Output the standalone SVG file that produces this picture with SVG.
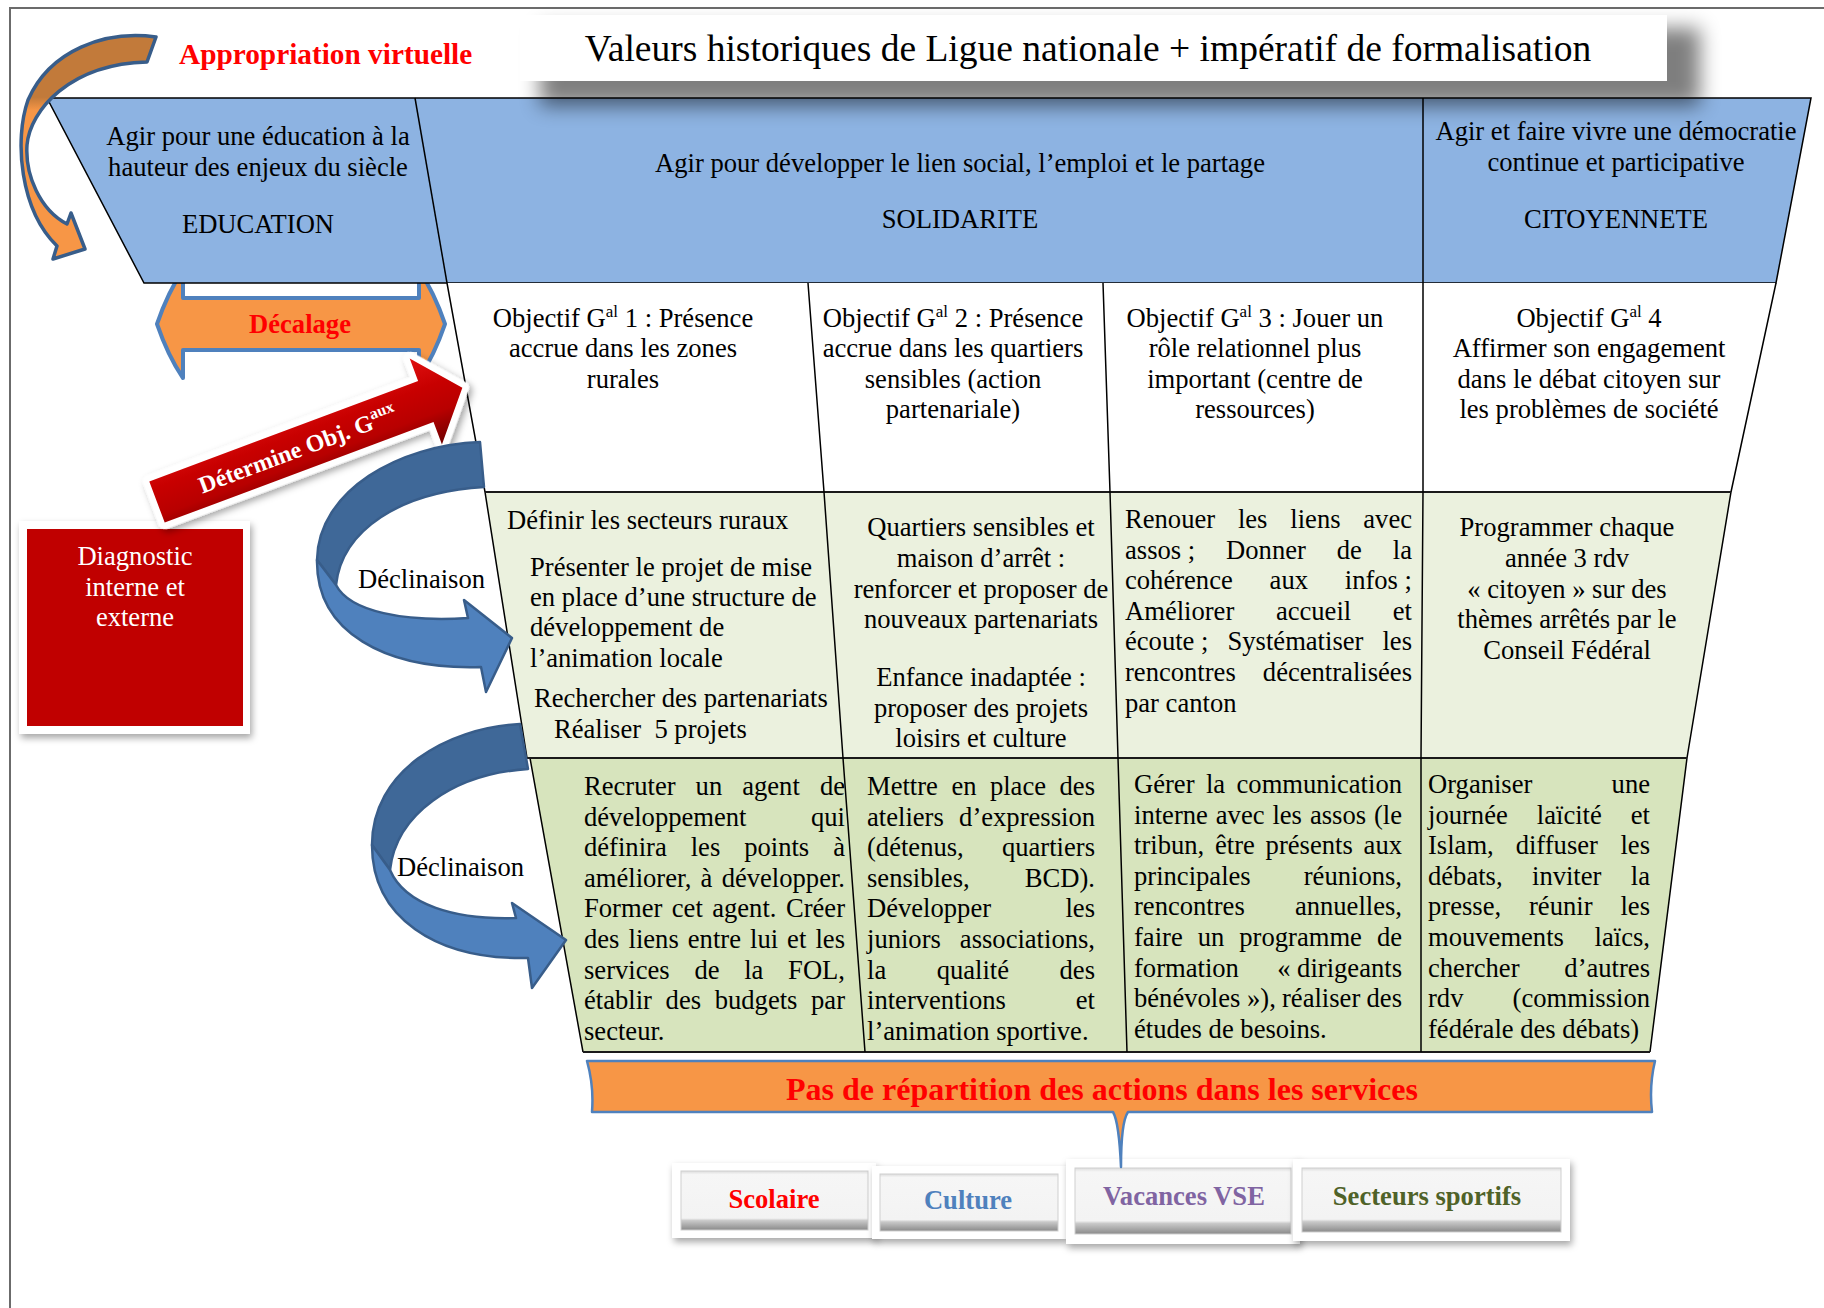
<svg xmlns="http://www.w3.org/2000/svg" width="1824" height="1308" viewBox="0 0 1824 1308">
<defs>
<style>
text{font-family:"Liberation Serif","Times New Roman",serif;font-size:26.6px;fill:#000}
.m{text-anchor:middle}
.e{text-anchor:end}
.b{font-weight:bold}
.ln{stroke:#000;stroke-width:1.5;fill:none}
.hl{stroke:#1a1a1a;stroke-width:2.2;fill:none}
.frame{fill:#fff;filter:url(#ds)}
.face{fill:url(#bev);stroke:#cfcfcf;stroke-width:1}
.blueA{stroke:#385d8a;stroke-width:2.5;stroke-linejoin:round}
</style>
<filter id="ds" x="-15%" y="-15%" width="135%" height="150%"><feDropShadow dx="2" dy="4" stdDeviation="3.5" flood-color="#000" flood-opacity="0.35"/></filter>
<filter id="blur" x="-10%" y="-50%" width="120%" height="200%"><feGaussianBlur stdDeviation="10"/></filter>
<linearGradient id="bev" x1="0" y1="0" x2="0" y2="1">
<stop offset="0" stop-color="#dcdcdc"/><stop offset="0.06" stop-color="#f6f6f6"/><stop offset="0.80" stop-color="#f3f3f3"/><stop offset="0.84" stop-color="#c9c9c9"/><stop offset="1" stop-color="#8a8a8a"/>
</linearGradient>
<linearGradient id="redg" x1="0" y1="0" x2="0" y2="1">
<stop offset="0" stop-color="#e01010"/><stop offset="0.35" stop-color="#c80000"/><stop offset="0.65" stop-color="#b80000"/><stop offset="1" stop-color="#6e0000"/>
</linearGradient>
<linearGradient id="orag" gradientUnits="userSpaceOnUse" x1="0" y1="37" x2="0" y2="260">
<stop offset="0" stop-color="#c27a3a"/><stop offset="0.27" stop-color="#c27a3a"/><stop offset="0.33" stop-color="#f79646"/><stop offset="1" stop-color="#f79646"/>
</linearGradient>
</defs>
<rect width="1824" height="1308" fill="#fff"/>
<path d="M10,1308 V8 H1824" stroke="#6b6b6b" stroke-width="2" fill="none"/>

<g id="decalage">
<path d="M157,324 Q168,292 183,270 L183,298 L419,298 L419,270 Q434,292 445,324 Q434,356 419,378 L419,350 L183,350 L183,378 Q168,356 157,324 Z" fill="#f79646" stroke="#4f81bd" stroke-width="4" stroke-linejoin="round"/>
<text class="b m" x="300" y="333" style="fill:#ff0000">Décalage</text>
</g>

<g id="header">
<polygon points="47,98 1811,98 1776,283 144,283" fill="#8db3e2" stroke="#000" stroke-width="1.5"/>
<line class="ln" x1="415" y1="98" x2="447" y2="283"/>
<line class="ln" x1="1423" y1="98" x2="1423" y2="283"/>
</g>

<g id="title">
<rect x="540" y="28" width="1160" height="78" fill="#000" opacity="0.5" filter="url(#blur)"/>
<rect x="520" y="15" width="1147" height="66" fill="#fff"/>
<text class="m" x="1088" y="61" style="font-size:37.5px">Valeurs historiques de Ligue nationale + impératif de formalisation</text>
</g>
<text id="appropriation" class="b" x="179" y="64" style="font-size:29.3px;fill:#ff0000">Appropriation virtuelle</text>

<g id="education">
<text class="m" x="258" y="145">Agir pour une éducation à la</text>
<text class="m" x="258" y="176">hauteur des enjeux du siècle</text>
<text class="m" x="258" y="233">EDUCATION</text>
</g>
<g id="solidarite">
<text class="m" x="960" y="172">Agir pour développer le lien social, l’emploi et le partage</text>
<text class="m" x="960" y="228">SOLIDARITE</text>
</g>
<g id="citoyennete">
<text class="m" x="1616" y="140">Agir et faire vivre une démocratie</text>
<text class="m" x="1616" y="171">continue et participative</text>
<text class="m" x="1616" y="228">CITOYENNETE</text>
</g>

<g id="table">
<polygon points="447,283 1776,283 1731,492 485,492" fill="#fff"/>
<polygon points="485,492 1731,492 1687,758 527,758" fill="#ebf1de"/>
<polygon points="530,758 1687,758 1650,1052 583,1052" fill="#d7e4bd"/>
<path class="ln" d="M447,283 L485,492 L527,758 M530,758 L583,1052 M1776,283 L1731,492 L1687,758 L1650,1052"/>
<path class="hl" d="M485,492 H1731 M527,758 H1687 M583,1052 H1650"/>
<path class="ln" d="M808,283 L824,492 L843,758 L865,1052 M1103,283 L1110,492 L1118,758 L1127,1052 M1423,283 L1423,492 L1421,758 L1421,1052"/>
</g>

<g id="obj1">
<text class="m" x="623" y="327">Objectif G<tspan dy="-10" style="font-size:17px">al</tspan><tspan dy="10"> 1 : Présence</tspan></text>
<text class="m" x="623" y="357">accrue dans les zones</text>
<text class="m" x="623" y="388">rurales</text>
</g>
<g id="obj2">
<text class="m" x="953" y="327">Objectif G<tspan dy="-10" style="font-size:17px">al</tspan><tspan dy="10"> 2 : Présence</tspan></text>
<text class="m" x="953" y="357">accrue dans les quartiers</text>
<text class="m" x="953" y="388">sensibles (action</text>
<text class="m" x="953" y="418">partenariale)</text>
</g>
<g id="obj3">
<text class="m" x="1255" y="327">Objectif G<tspan dy="-10" style="font-size:17px">al</tspan><tspan dy="10"> 3 : Jouer un</tspan></text>
<text class="m" x="1255" y="357">rôle relationnel plus</text>
<text class="m" x="1255" y="388">important (centre de</text>
<text class="m" x="1255" y="418">ressources)</text>
</g>
<g id="obj4">
<text class="m" x="1589" y="327">Objectif G<tspan dy="-10" style="font-size:17px">al</tspan><tspan dy="10"> 4</tspan></text>
<text class="m" x="1589" y="357">Affirmer son engagement</text>
<text class="m" x="1589" y="388">dans le débat citoyen sur</text>
<text class="m" x="1589" y="418">les problèmes de société</text>
</g>

<g id="action1">
<text x="507" y="529">Définir les secteurs ruraux</text>
<text x="530" y="576">Présenter le projet de mise</text>
<text x="530" y="606">en place d’une structure de</text>
<text x="530" y="636">développement de</text>
<text x="530" y="667">l’animation locale</text>
<text x="534" y="707">Rechercher des partenariats</text>
<text x="554" y="738">Réaliser&#160; 5 projets</text>
</g>
<g id="action2">
<text class="m" x="981" y="536">Quartiers sensibles et</text>
<text class="m" x="981" y="567">maison d’arrêt :</text>
<text class="m" x="981" y="598">renforcer et proposer de</text>
<text class="m" x="981" y="628">nouveaux partenariats</text>
<text class="m" x="981" y="686">Enfance inadaptée :</text>
<text class="m" x="981" y="717">proposer des projets</text>
<text class="m" x="981" y="747">loisirs et culture</text>
</g>
<g id="action3">
<text y="528"><tspan x="1125">Renouer</tspan><tspan x="1237.9">les</tspan><tspan x="1290.3">liens</tspan></text><text class="e" x="1412" y="528">avec</text>
<text y="558.6"><tspan x="1125">assos&#160;;</tspan><tspan x="1226.1">Donner</tspan><tspan x="1336.8">de</tspan></text><text class="e" x="1412" y="558.6">la</text>
<text y="589.2"><tspan x="1125">cohérence</tspan><tspan x="1269.6">aux</tspan></text><text class="e" x="1412" y="589.2">infos&#160;;</text>
<text y="619.8"><tspan x="1125">Améliorer</tspan><tspan x="1275.9">accueil</tspan></text><text class="e" x="1412" y="619.8">et</text>
<text y="650.4"><tspan x="1125">écoute&#160;;</tspan><tspan x="1227.5">Systématiser</tspan></text><text class="e" x="1412" y="650.4">les</text>
<text x="1125" y="681">rencontres</text><text class="e" x="1412" y="681">décentralisées</text>
<text x="1125" y="711.6">par canton</text>
</g>
<g id="action4">
<text class="m" x="1567" y="536">Programmer chaque</text>
<text class="m" x="1567" y="567">année 3 rdv</text>
<text class="m" x="1567" y="598">«&#160;citoyen&#160;» sur des</text>
<text class="m" x="1567" y="628">thèmes arrêtés par le</text>
<text class="m" x="1567" y="659">Conseil Fédéral</text>
</g>

<g id="detail1">
<text y="795"><tspan x="584">Recruter</tspan><tspan x="695.6">un</tspan><tspan x="742.2">agent</tspan></text><text class="e" x="845" y="795">de</text>
<text x="584" y="825.6">développement</text><text class="e" x="845" y="825.6">qui</text>
<text y="856.2"><tspan x="584">définira</tspan><tspan x="690.7">les</tspan><tspan x="744.2">points</tspan></text><text class="e" x="845" y="856.2">à</text>
<text y="886.8"><tspan x="584">améliorer,</tspan><tspan x="700.5">à</tspan></text><text class="e" x="845" y="886.8">développer.</text>
<text y="917.4"><tspan x="584">Former</tspan><tspan x="671.8">cet</tspan><tspan x="712.2">agent.</tspan></text><text class="e" x="845" y="917.4">Créer</text>
<text y="948"><tspan x="584">des</tspan><tspan x="628.5">liens</tspan><tspan x="687.8">entre</tspan><tspan x="750">lui</tspan><tspan x="787.1">et</tspan></text><text class="e" x="845" y="948">les</text>
<text y="978.6"><tspan x="584">services</tspan><tspan x="694.4">de</tspan><tspan x="744.2">la</tspan></text><text class="e" x="845" y="978.6">FOL,</text>
<text y="1009.2"><tspan x="584">établir</tspan><tspan x="665.6">des</tspan><tspan x="714.7">budgets</tspan></text><text class="e" x="845" y="1009.2">par</text>
<text x="584" y="1039.8">secteur.</text>
</g>
<g id="detail2">
<text y="795"><tspan x="867">Mettre</tspan><tspan x="951.4">en</tspan><tspan x="989.9">place</tspan></text><text class="e" x="1095" y="795">des</text>
<text x="867" y="825.6">ateliers</text><text class="e" x="1095" y="825.6">d’expression</text>
<text x="867" y="856.2">(détenus,</text><text class="e" x="1095" y="856.2">quartiers</text>
<text x="867" y="886.8">sensibles,</text><text class="e" x="1095" y="886.8">BCD).</text>
<text x="867" y="917.4">Développer</text><text class="e" x="1095" y="917.4">les</text>
<text x="867" y="948">juniors</text><text class="e" x="1095" y="948">associations,</text>
<text y="978.6"><tspan x="867">la</tspan><tspan x="936.7">qualité</tspan></text><text class="e" x="1095" y="978.6">des</text>
<text x="867" y="1009.2">interventions</text><text class="e" x="1095" y="1009.2">et</text>
<text x="867" y="1039.8">l’animation sportive.</text>
</g>
<g id="detail3">
<text y="793"><tspan x="1134">Gérer</tspan><tspan x="1205.9">la</tspan></text><text class="e" x="1402" y="793">communication</text>
<text y="823.6"><tspan x="1134">interne</tspan><tspan x="1215.8">avec</tspan><tspan x="1272.4">les</tspan><tspan x="1309.9">assos</tspan></text><text class="e" x="1402" y="823.6">(le</text>
<text y="854.2"><tspan x="1134">tribun,</tspan><tspan x="1215">être</tspan><tspan x="1265.6">présents</tspan></text><text class="e" x="1402" y="854.2">aux</text>
<text x="1134" y="884.8">principales</text><text class="e" x="1402" y="884.8">réunions,</text>
<text x="1134" y="915.4">rencontres</text><text class="e" x="1402" y="915.4">annuelles,</text>
<text y="946"><tspan x="1134">faire</tspan><tspan x="1197.7">un</tspan><tspan x="1239.3">programme</tspan></text><text class="e" x="1402" y="946">de</text>
<text x="1134" y="976.6">formation</text><text class="e" x="1402" y="976.6">«&#160;dirigeants</text>
<text y="1007.2"><tspan x="1134">bénévoles&#160;»),</tspan><tspan x="1282">réaliser</tspan></text><text class="e" x="1402" y="1007.2">des</text>
<text x="1134" y="1037.8">études de besoins.</text>
</g>
<g id="detail4">
<text x="1428" y="793">Organiser</text><text class="e" x="1650" y="793">une</text>
<text y="823.6"><tspan x="1428">journée</tspan><tspan x="1536.8">laïcité</tspan></text><text class="e" x="1650" y="823.6">et</text>
<text y="854.2"><tspan x="1428">Islam,</tspan><tspan x="1515.7">diffuser</tspan></text><text class="e" x="1650" y="854.2">les</text>
<text y="884.8"><tspan x="1428">débats,</tspan><tspan x="1532">inviter</tspan></text><text class="e" x="1650" y="884.8">la</text>
<text y="915.4"><tspan x="1428">presse,</tspan><tspan x="1529">réunir</tspan></text><text class="e" x="1650" y="915.4">les</text>
<text x="1428" y="946">mouvements</text><text class="e" x="1650" y="946">laïcs,</text>
<text x="1428" y="976.6">chercher</text><text class="e" x="1650" y="976.6">d’autres</text>
<text x="1428" y="1007.2">rdv</text><text class="e" x="1650" y="1007.2">(commission</text>
<text x="1428" y="1037.8">fédérale des débats)</text>
</g>

<g id="diagnostic">
<rect class="frame" x="19" y="521" width="231" height="213"/>
<rect x="27" y="529" width="216" height="197" fill="#c00000"/>
<text class="m" x="135" y="565" style="fill:#fff">Diagnostic</text>
<text class="m" x="135" y="596" style="fill:#fff">interne et</text>
<text class="m" x="135" y="626" style="fill:#fff">externe</text>
</g>

<g id="btn-scolaire">
<rect class="frame" x="672" y="1163" width="204" height="75"/>
<rect class="face" x="681" y="1171" width="187" height="59"/>
<text class="b m" x="774" y="1208" style="fill:#ff0000">Scolaire</text>
</g>
<g id="btn-culture">
<rect class="frame" x="872" y="1166" width="194" height="73"/>
<rect class="face" x="880" y="1174" width="178" height="57"/>
<text class="b m" x="968" y="1209" style="fill:#4f81bd">Culture</text>
</g>
<g id="btn-vacances">
<rect class="frame" x="1066" y="1159" width="234" height="85"/>
<rect class="face" x="1075" y="1168" width="216" height="66"/>
<text class="b m" x="1184" y="1205" style="fill:#8064a2">Vacances VSE</text>
</g>
<g id="btn-sportifs">
<rect class="frame" x="1293" y="1159" width="277" height="82"/>
<rect class="face" x="1302" y="1168" width="259" height="64"/>
<text class="b m" x="1427" y="1205" style="fill:#4f6228">Secteurs sportifs</text>
</g>

<g id="callout">
<path d="M587,1061 L1655,1061 Q1649,1086 1652,1112 L1128,1112 Q1121,1122 1121,1167 Q1119,1122 1113,1112 L592,1112 Q594,1086 587,1061 Z" fill="#f79646" stroke="#4f81bd" stroke-width="2.5" stroke-linejoin="round"/>
<text class="b m" x="1102" y="1100" style="font-size:32px;fill:#ff0000">Pas de répartition des actions dans les services</text>
</g>

<g id="connectors">
<path id="arrow-appropriation" d="M156,37 C105,30 50,50 28,100 C14,140 20,210 57,246 L53,259 L85,249 L71,213 L67,224 C40,210 25,175 27,145 C30,110 70,64 147,62 Z" fill="url(#orag)" stroke="#385d8a" stroke-width="3.5" stroke-linejoin="round"/>
<g id="arrow-determine" transform="translate(157,502) rotate(-20.5)">
<path d="M0,-22 L287,-22 L287,-46 L326,0 L287,46 L287,22 L0,22 Z" fill="#fff" stroke="#fff" stroke-width="13" stroke-linejoin="round" filter="url(#ds)"/>
<path d="M0,-22 L287,-22 L287,-46 L326,0 L287,46 L287,22 L0,22 Z" fill="url(#redg)"/>
<text class="b m" x="150" y="8" style="font-size:24px;fill:#fff">Détermine Obj. G<tspan dy="-10" style="font-size:16px">aux</tspan></text>
</g>
<g id="arrow-declinaison1">
<path class="blueA" d="M480,442 C400,445 318,490 317,560 L336,585 C342,530 400,492 484,487 Z" fill="#3f6898"/>
<path class="blueA" d="M317,560 C316,632 385,670 481,667 L486,692 L512,638 L464,600 L468,618 C405,622 350,612 336,585 Z" fill="#4f81bd"/>
<text x="358" y="588">Déclinaison</text>
</g>
<g id="arrow-declinaison2">
<path class="blueA" d="M520,724 C445,728 372,772 372,845 L390,870 C396,815 452,774 528,769 Z" fill="#3f6898"/>
<path class="blueA" d="M372,845 C372,917 435,960 528,958 L532,988 L566,940 L512,903 L516,918 C455,920 405,905 390,870 Z" fill="#4f81bd"/>
<text x="397" y="876">Déclinaison</text>
</g>
</g>
</svg>
